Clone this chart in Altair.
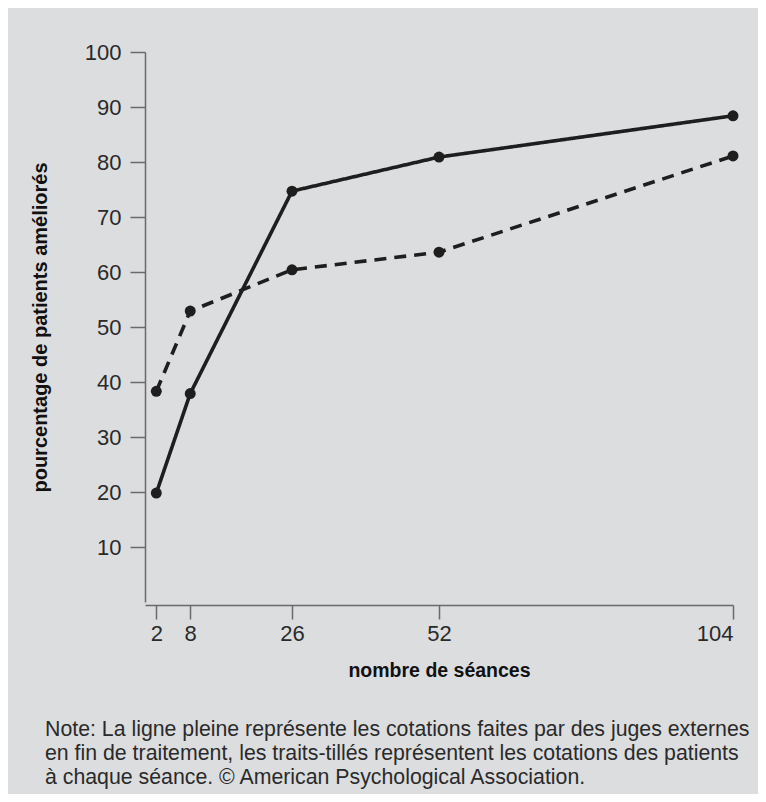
import altair as alt
import pandas as pd

seances = [2, 8, 26, 52, 104]
juges_externes = [19.8, 37.9, 74.7, 80.9, 88.4]
patients = [38.3, 52.9, 60.4, 63.6, 81.1]

df = pd.DataFrame({
    "seances": seances * 2,
    "valeur": juges_externes + patients,
    "serie": ["juges"] * len(seances) + ["patients"] * len(seances),
})

note = [
    "Note: La ligne pleine représente les cotations faites par des juges externes",
    "en fin de traitement, les traits-tillés représentent les cotations des patients",
    "à chaque séance. © American Psychological Association.",
]

ink = "#1e1e1e"
axis_col = "#6a6a6a"

x = alt.X(
    "seances:Q",
    scale=alt.Scale(domain=[0, 104], nice=False, zero=False),
    axis=alt.Axis(
        values=seances, title="nombre de séances", grid=False,
        domainColor=axis_col, tickColor=axis_col, tickSize=14, tickWidth=1.5,
        domainWidth=1.5, labelFontSize=22, labelColor="#2a2a2a", labelPadding=4,
        labelFont="Liberation Sans", titleFont="Liberation Sans",
        titleFontSize=19.5, titleFontWeight="bold", titleColor="#111",
        titlePadding=17, offset=3,
    ),
)
y = alt.Y(
    "valeur:Q",
    scale=alt.Scale(domain=[0, 100], nice=False),
    axis=alt.Axis(
        values=[10, 20, 30, 40, 50, 60, 70, 80, 90, 100],
        title="pourcentage de patients améliorés", grid=False,
        domainColor=axis_col, tickColor=axis_col, tickSize=15, tickWidth=1.5,
        domainWidth=1.5, labelFontSize=22, labelColor="#2a2a2a", labelPadding=9,
        labelFont="Liberation Sans", titleFont="Liberation Sans",
        titleFontSize=20, titleFontWeight="bold", titleColor="#111",
        titlePadding=34,
    ),
)

lines = alt.Chart(df).mark_line(color=ink, strokeWidth=3.6).encode(
    x=x, y=y,
    detail="serie:N",
    strokeDash=alt.StrokeDash(
        "serie:N",
        scale=alt.Scale(domain=["juges", "patients"], range=[[1, 0], [12, 8]]),
        legend=None,
    ),
)
points = alt.Chart(df).mark_circle(color=ink, size=120, opacity=1).encode(x=x, y=y)

chart = (
    alt.layer(lines, points)
    .properties(
        width=588,
        height=550,
        autosize=alt.AutoSizeParams(type="none"),
        padding={"left": 137, "top": 44, "right": 25, "bottom": 192},
        background="#dcdddf",
        title=alt.TitleParams(
            text=note, orient="bottom", anchor="start", frame="group",
            dx=-100, offset=39, fontSize=21.3, lineHeight=24,
            font="Liberation Sans", fontWeight="normal",
            color="#2a2a2a",
        ),
    )
    .configure_view(stroke=None)
)

chart.save("out.html", embed_options={"renderer": "svg", "actions": False})
